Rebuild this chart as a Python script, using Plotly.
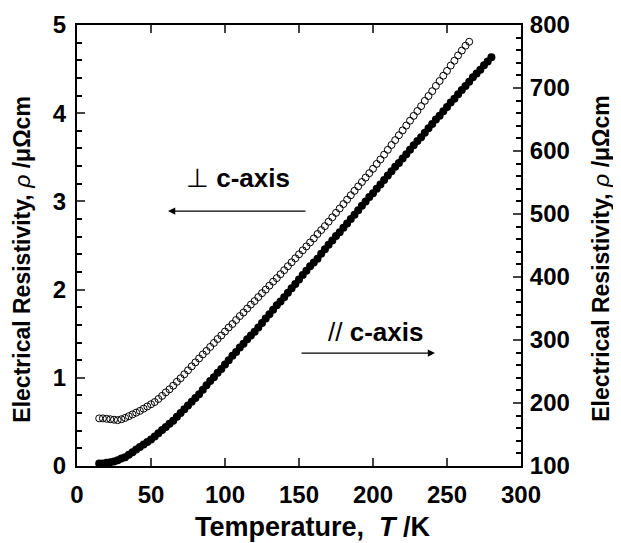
import plotly.graph_objects as go

# perpendicular to c-axis (open circles, left axis, μΩcm)
T_perp = [15, 17.5, 20, 22.5, 25, 27.5, 30, 32.5, 35, 37.5, 40, 42.5, 45, 47.5, 50, 52.5, 55, 57.5,
          60, 62.5, 65, 67.5, 70, 72.5, 75, 77.5, 80, 82.5, 85, 87.5, 90, 92.5, 95, 97.5, 100, 102.5,
          105, 107.5, 110, 112.5, 115, 117.5, 120, 122.5, 125, 127.5, 130, 132.5, 135, 137.5, 140,
          142.5, 145, 147.5, 150, 152.5, 155, 157.5, 160, 162.5, 165, 167.5, 170, 172.5, 175, 177.5,
          180, 182.5, 185, 187.5, 190, 192.5, 195, 197.5, 200, 202.5, 205, 207.5, 210, 212.5, 215,
          217.5, 220, 222.5, 225, 227.5, 230, 232.5, 235, 237.5, 240, 242.5, 245, 247.5, 250, 252.5,
          255, 257.5, 260, 262.5, 265]
rho_perp = [0.54, 0.54, 0.535, 0.53, 0.525, 0.52, 0.53, 0.545, 0.565, 0.585, 0.605, 0.625, 0.65, 0.675,
            0.70, 0.725, 0.76, 0.795, 0.835, 0.87, 0.91, 0.955, 0.995, 1.04, 1.085, 1.13, 1.175, 1.22,
            1.265, 1.305, 1.35, 1.395, 1.44, 1.48, 1.525, 1.57, 1.61, 1.655, 1.70, 1.74, 1.785, 1.83,
            1.87, 1.915, 1.96, 2.00, 2.045, 2.09, 2.13, 2.175, 2.22, 2.265, 2.31, 2.355, 2.40, 2.445,
            2.49, 2.535, 2.58, 2.63, 2.675, 2.72, 2.77, 2.82, 2.87, 2.92, 2.97, 3.02, 3.07, 3.12, 3.17,
            3.22, 3.27, 3.32, 3.37, 3.425, 3.475, 3.53, 3.585, 3.64, 3.695, 3.75, 3.805, 3.86, 3.915,
            3.97, 4.025, 4.08, 4.14, 4.195, 4.25, 4.31, 4.365, 4.425, 4.48, 4.54, 4.595, 4.655, 4.71,
            4.765, 4.81]

# parallel to c-axis (filled circles, right axis, μΩcm)
T_par = [15, 17.5, 20, 22.5, 25, 27.5, 30, 32.5, 35, 37.5, 40, 42.5, 45, 47.5, 50, 52.5, 55, 57.5,
         60, 62.5, 65, 67.5, 70, 72.5, 75, 77.5, 80, 82.5, 85, 87.5, 90, 92.5, 95, 97.5, 100, 102.5,
         105, 107.5, 110, 112.5, 115, 117.5, 120, 122.5, 125, 127.5, 130, 132.5, 135, 137.5, 140,
         142.5, 145, 147.5, 150, 152.5, 155, 157.5, 160, 162.5, 165, 167.5, 170, 172.5, 175, 177.5,
         180, 182.5, 185, 187.5, 190, 192.5, 195, 197.5, 200, 202.5, 205, 207.5, 210, 212.5, 215,
         217.5, 220, 222.5, 225, 227.5, 230, 232.5, 235, 237.5, 240, 242.5, 245, 247.5, 250, 252.5,
         255, 257.5, 260, 262.5, 265, 267.5, 270, 272.5, 275, 277.5, 280]
rho_par = [104, 104, 105, 106, 107, 109, 112, 114, 118, 122, 126, 130, 134, 138, 142, 147, 152, 157,
           162, 167, 172, 178, 184, 190, 196, 202, 208, 214, 221, 228, 235, 241, 248, 254, 261, 268,
           275, 281, 288, 294, 301, 307, 313, 320, 327, 334, 341, 348, 355, 361, 368, 375, 382, 389,
           396, 403, 410, 417, 423, 429, 437, 444, 451, 458, 465, 471, 478, 485, 492, 499, 506, 513,
           520, 527, 533, 540, 547, 554, 561, 568, 575, 581, 588, 595, 602, 609, 616, 622, 629, 636,
           643, 650, 656, 663, 670, 677, 683, 690, 697, 703, 710, 717, 723, 729, 736, 742, 749]

x_ticks = [0, 50, 100, 150, 200, 250, 300]
y1_ticks = [0, 1, 2, 3, 4, 5]
y2_ticks = [100, 200, 300, 400, 500, 600, 700, 800]

FONT = "Liberation Sans"
tickfont = dict(family=FONT, size=24, color="black", weight="bold")
ytitle = "<b>Electrical Resistivity,</b> <i>ρ</i> <b>/μΩcm</b>"

fig = go.Figure()
fig.add_trace(go.Scatter(
    x=T_perp, y=rho_perp, mode="markers", yaxis="y",
    marker=dict(symbol="circle-open", size=7, color="black", line=dict(width=1, color="black")),
    showlegend=False))
fig.add_trace(go.Scatter(
    x=T_par, y=rho_par, mode="markers", yaxis="y2",
    marker=dict(symbol="circle", size=8, color="black"),
    showlegend=False))

fig.update_layout(
    width=613, height=535,
    margin=dict(l=69, r=100, t=17, b=77),
    paper_bgcolor="white", plot_bgcolor="white",
    xaxis=dict(range=[0, 300], tickvals=x_ticks, ticks="inside", ticklen=8, tickwidth=2,
               showline=True, linewidth=2, linecolor="black", mirror="ticks",
               showgrid=False, zeroline=False, tickfont=tickfont, automargin=False,
               ticklabelstandoff=6),
    yaxis=dict(range=[0, 5], tickvals=y1_ticks, ticks="inside", ticklen=8, tickwidth=2,
               minor=dict(dtick=0.2, ticks="inside", ticklen=5, tickwidth=2, tickcolor="black"),
               showline=True, linewidth=2, linecolor="black", mirror=False,
               showgrid=False, zeroline=False, tickfont=tickfont, automargin=False,
               ticklabelstandoff=4),
    yaxis2=dict(range=[100, 800], tickvals=y2_ticks, ticks="inside", ticklen=8, tickwidth=2,
                minor=dict(dtick=20, ticks="inside", ticklen=5, tickwidth=2, tickcolor="black"),
                overlaying="y", side="right", anchor="x",
                showline=True, linewidth=2, linecolor="black",
                showgrid=False, zeroline=False, tickfont=tickfont, automargin=False,
                ticklabelstandoff=2),
)

# axis titles
fig.add_annotation(x=0.5315, y=-0.138, xref="paper", yref="paper", showarrow=False,
                   xanchor="center", yanchor="middle",
                   text="<b>Temperature,  <i>T</i> /K</b>", font=dict(family=FONT, size=27, color="black"))
fig.add_annotation(x=-0.124, y=0.47, xref="paper", yref="paper", showarrow=False, textangle=-90,
                   xanchor="center", yanchor="middle",
                   text=ytitle, font=dict(family=FONT, size=23, color="black"))
fig.add_annotation(x=1.1802, y=0.47, xref="paper", yref="paper", showarrow=False, textangle=-90,
                   xanchor="center", yanchor="middle",
                   text=ytitle, font=dict(family=FONT, size=23, color="black"))

# curve labels and arrows
fig.add_annotation(x=108.8, y=3.26, xref="x", yref="y", text="⊥ <b>c-axis</b>", showarrow=False,
                   font=dict(family=FONT, size=26, color="black"))
fig.add_annotation(x=202, y=1.52, xref="x", yref="y", text="// <b>c-axis</b>", showarrow=False,
                   font=dict(family=FONT, size=26, color="black"))
fig.add_annotation(x=61.5, y=2.89, xref="x", yref="y", ax=155.4, ay=2.89, axref="x", ayref="y",
                   text="", showarrow=True, arrowhead=2, arrowsize=1.2, arrowwidth=1.2, arrowcolor="black")
fig.add_annotation(x=241.9, y=1.28, xref="x", yref="y", ax=150.7, ay=1.28, axref="x", ayref="y",
                   text="", showarrow=True, arrowhead=2, arrowsize=1.2, arrowwidth=1.2, arrowcolor="black")

fig.write_html("out.html")
